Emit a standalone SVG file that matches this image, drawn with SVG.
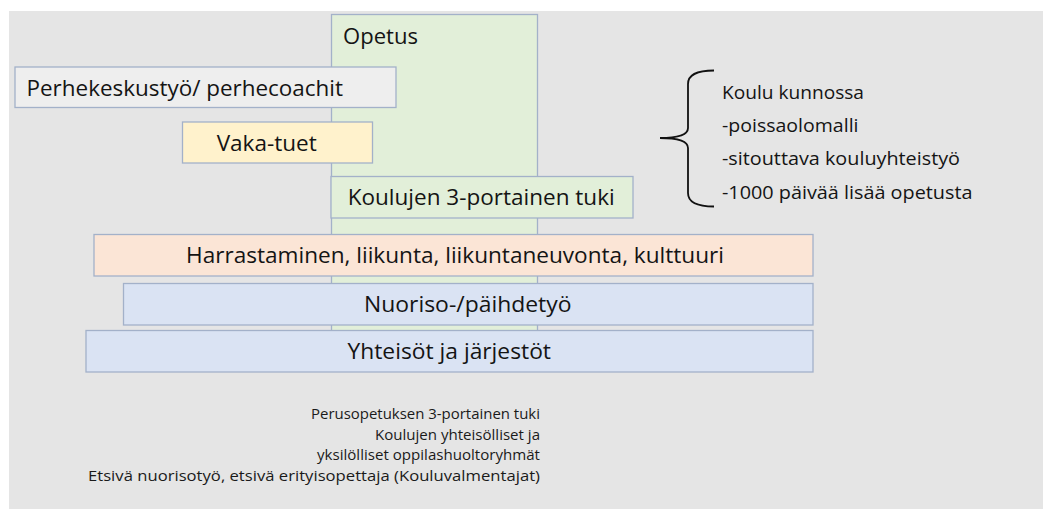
<svg xmlns="http://www.w3.org/2000/svg" width="1043" height="509" viewBox="0 0 1043 509">
<style>
.box{stroke:#a3b1c9;stroke-width:1.3}
.t{font-family:"Open Sans","Liberation Sans",sans-serif;font-size:22px;fill:#141414}
.s{font-family:"Open Sans","Liberation Sans",sans-serif;font-size:19px;fill:#141414}
.f{font-family:"Open Sans","Liberation Sans",sans-serif;font-size:15px;fill:#1a1a1a}
</style>
<rect x="0" y="0" width="1043" height="509" fill="#ffffff"/>
<rect x="9" y="11" width="1034" height="498" fill="#e5e5e5"/>
<g id="opetus">
<rect class="box" x="331.5" y="14.5" width="206" height="350" fill="#e2efd9"/>
<text class="t" x="343" y="44" textLength="75" lengthAdjust="spacingAndGlyphs">Opetus</text>
</g>
<g id="perhekeskustyo">
<rect class="box" x="15" y="67" width="381" height="40.5" fill="#eeeeee"/>
<text class="t" x="26.5" y="95.5" textLength="316.5" lengthAdjust="spacingAndGlyphs">Perhekeskustyö/ perhecoachit</text>
</g>
<g id="vaka-tuet">
<rect class="box" x="182.5" y="122" width="190" height="41" fill="#fff2cc"/>
<text class="t" x="216.7" y="150.5" textLength="100" lengthAdjust="spacingAndGlyphs">Vaka-tuet</text>
</g>
<g id="koulujen-tuki">
<rect class="box" x="331" y="176.5" width="302" height="41.5" fill="#e2efd9"/>
<text class="t" x="347.7" y="204.5" textLength="267" lengthAdjust="spacingAndGlyphs">Koulujen 3-portainen tuki</text>
</g>
<g id="harrastaminen">
<rect class="box" x="94" y="234.5" width="719" height="41.5" fill="#fbe5d6"/>
<text class="t" x="186" y="263" textLength="538" lengthAdjust="spacingAndGlyphs">Harrastaminen, liikunta, liikuntaneuvonta, kulttuuri</text>
</g>
<g id="nuoriso">
<rect class="box" x="123.5" y="283.5" width="689.5" height="41.5" fill="#dae3f3"/>
<text class="t" x="364" y="311.5" textLength="207.5" lengthAdjust="spacingAndGlyphs">Nuoriso-/päihdetyö</text>
</g>
<g id="yhteisot">
<rect class="box" x="86" y="330.5" width="727" height="41.5" fill="#dae3f3"/>
<text class="t" x="347.5" y="359" textLength="203.5" lengthAdjust="spacingAndGlyphs">Yhteisöt ja järjestöt</text>
</g>
<g id="connectors">
<path d="M714,70.5 Q688,70.5 688,84 L688,128 Q688,138 660,138 Q688,138 688,148 L688,193 Q688,206.5 714,206.5" fill="none" stroke="#111111" stroke-width="1.8"/>
</g>
<g id="koulu-kunnossa">
<text class="s" x="722" y="98.5" textLength="142" lengthAdjust="spacingAndGlyphs">Koulu kunnossa</text>
<text class="s" x="722" y="131.5" textLength="136.5" lengthAdjust="spacingAndGlyphs">-poissaolomalli</text>
<text class="s" x="722" y="165" textLength="238" lengthAdjust="spacingAndGlyphs">-sitouttava kouluyhteistyö</text>
<text class="s" x="722" y="198.5" textLength="250.5" lengthAdjust="spacingAndGlyphs">-1000 päivää lisää opetusta</text>
</g>
<g id="footnote">
<text class="f" x="311" y="419" textLength="229" lengthAdjust="spacingAndGlyphs">Perusopetuksen 3-portainen tuki</text>
<text class="f" x="375" y="439.5" textLength="165" lengthAdjust="spacingAndGlyphs">Koulujen yhteisölliset ja</text>
<text class="f" x="317" y="460" textLength="223" lengthAdjust="spacingAndGlyphs">yksilölliset oppilashuoltoryhmät</text>
<text class="f" x="88" y="480.5" textLength="452" lengthAdjust="spacingAndGlyphs">Etsivä nuorisotyö, etsivä erityisopettaja (Kouluvalmentajat)</text>
</g>
</svg>
